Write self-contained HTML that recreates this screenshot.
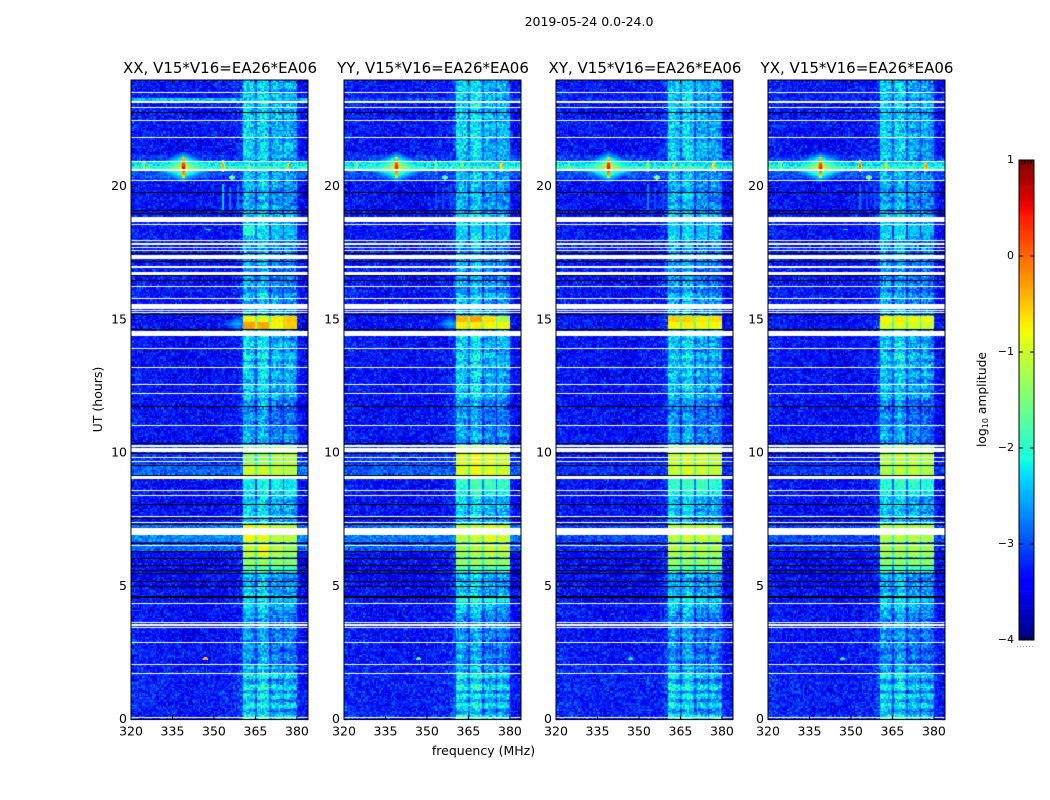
<!DOCTYPE html>
<html lang="en">
<head>
<meta charset="utf-8">
<title>2019-05-24 0.0-24.0</title>
<style>
html,body{margin:0;padding:0;background:#fff;}
#figure{position:relative;width:1050px;height:800px;overflow:hidden;background:#fff;font-family:"DejaVu Sans","Liberation Sans",sans-serif;}
canvas{position:absolute;display:block;}
#overlay{position:absolute;left:0;top:0;}
#overlay text{font-family:"DejaVu Sans","Liberation Sans",sans-serif;fill:#000;}
</style>
</head>
<body>
<div id="figure">
<canvas id="heat-xx" width="177" height="640" style="left:131px;top:80px"></canvas>
<canvas id="heat-yy" width="177" height="640" style="left:344px;top:80px"></canvas>
<canvas id="heat-xy" width="177" height="640" style="left:556px;top:80px"></canvas>
<canvas id="heat-yx" width="177" height="640" style="left:768px;top:80px"></canvas>
<canvas id="colorbar" width="15" height="480" style="left:1019px;top:160px"></canvas>
<svg id="overlay" width="1050" height="800" viewBox="0 0 1050 800">
<text x="589" y="26" text-anchor="middle" font-size="12.5">2019-05-24 0.0-24.0</text>
<text x="483.5" y="755" text-anchor="middle" font-size="12.5">frequency (MHz)</text>
<text transform="translate(102,399.5) rotate(-90)" text-anchor="middle" font-size="12.5">UT (hours)</text>
<text transform="translate(986,399.5) rotate(-90)" text-anchor="middle" font-size="12.3">log<tspan font-size="8" dy="2">10</tspan><tspan dy="-2"> amplitude</tspan></text>
<g id="axes-layer"></g>
<g id="colorbar-layer"></g>
</svg>
</div>
<script>
// ---- axis data ----
const panelTitles = ['XX, V15*V16=EA26*EA06','YY, V15*V16=EA26*EA06','XY, V15*V16=EA26*EA06','YX, V15*V16=EA26*EA06'];
const panelCanvasIds = ['heat-xx','heat-yy','heat-xy','heat-yx'];
const panelKeys = ['xx','yy','xy','yx'];
const freqTicks = [320,335,350,365,380];
const utTicks = [0,5,10,15,20];
const colorbarTicks = [1,0,-1,-2,-3,-4];
const channelWidthMHz = 0.5;
const rowCount = 426;

// mean log10 amplitude of each 0.5 MHz channel (320-384 MHz)
const channelLevel = [
-3.28,-3.30,-3.30,-3.32,-3.30,-3.33,-3.32,-3.34,-3.33,-3.35,-3.34,-3.36,-3.35,-3.36,-3.34,-3.36,
-3.36,-3.37,-3.36,-3.38,-3.37,-3.38,-3.36,-3.38,-3.38,-3.39,-3.38,-3.40,-3.39,-3.38,-3.39,-3.40,
-3.40,-3.39,-3.41,-3.40,-3.41,-3.40,-3.42,-3.41,-3.40,-3.42,-3.41,-3.42,-3.41,-3.40,-3.42,-3.41,
-3.40,-3.41,-3.40,-3.42,-3.40,-3.41,-3.39,-3.40,-3.39,-3.41,-3.39,-3.40,-3.38,-3.39,-3.38,-3.38,
-3.37,-3.38,-3.36,-3.37,-3.36,-3.37,-3.35,-3.36,-3.34,-3.35,-3.33,-3.33,-3.30,-3.28,-3.24,-3.18,-3.05,
-2.32,-2.28,-2.24,-2.28,-2.30,-2.34,-2.38,-2.42,-2.48,-2.85,
-2.38,-2.28,-2.22,-2.18,-2.16,-2.20,-2.26,-2.32,-2.38,-2.90,
-2.54,-2.48,-2.44,-2.42,-2.48,-2.50,-2.48,-2.52,-2.60,-2.95,
-2.50,-2.44,-2.44,-2.48,-2.50,-2.54,-2.58,-2.60,-2.68,
-3.28,-3.38,-3.42,-3.44,-3.45,-3.44,-3.46,-3.45];

// background lift per UT hour
const backgroundByHour = [0.10,0.10,0.04,0,0,-0.03,-0.03,0,0,0,0,0,0,0,0,0,0.03,0.03,0,0,0,0,0.03,0.03];

// RFI band structure
const subbandStartMHz = [360.5,365.5,370.5,375.5];
const subbandEndMHz = [365,370,375,380];
const rfiStartMHz = 360.5;
const rfiEndMHz = 380;
const rfiByHour = [0.10,0.10,-0.25,-0.20,0.05,-0.05,0,0.05,0.10,0,-0.15,-0.25,0,0.05,0.05,-0.05,-0.20,-0.15,0.05,-0.10,-0.05,0.05,0.05,0.05];
const rippleByHour = [0.35,0.35,0.15,0.10,0.15,0.10,0.05,0.10,0.15,0.05,0.10,0.10,0.15,0.20,0.10,0.10,0.10,0.10,0.10,0.10,0.10,0.10,0.10,0.10];
const rowRipple = [0.6,0.9,0.7,0.1,-0.5,-0.9,-0.7,-0.1,0.5,1.0,0.4,-0.2,-0.8,-0.6,0.1,0.8,0.5,-0.3,-1.0,-0.4];
const panelRfiOffset = [-0.10,-0.08,-0.13,-0.15];

// speckle table, log10 units
const grainTable = [0.12,-0.31,0.05,0.38,-0.12,-0.44,0.21,-0.05,0.29,-0.22,0.02,0.46,-0.36,0.15,-0.09,0.33,-0.18,-0.52,0.08,0.24,
-0.27,0.41,-0.02,-0.14,0.18,-0.39,0.31,0.06,-0.24,0.52,-0.07,-0.33,0.14,0.27,-0.47,0.03,0.36,-0.16,0.10,-0.29,
0.22,0.44,-0.11,-0.41,0.01,0.30,-0.20,0.17,-0.58,0.26,0.07,-0.13,0.39,-0.26,-0.04,0.19,-0.35,0.48,0.09,-0.17,
-0.30,0.25,0.13,-0.43,0.34,-0.08,0.04,-0.23,0.42,-0.15,0.20,-0.37,0.11,0.32,-0.50,-0.01,0.28,-0.19,0.16,-0.28,
0.37,-0.06,-0.40,0.23,0.00,0.43,-0.21,-0.10,0.35,-0.34,0.07,0.55,-0.25,-0.03,0.17,-0.46,0.26,0.12,-0.12,-0.32,0.40];

// flagged (white) time ranges, UT hours
const flagStartUT = [23.50,23.12,22.95,22.46,21.82,20.91,20.60,20.20,18.67,18.56,17.95,17.82,17.69,17.58,17.28,16.96,16.68,16.23,15.78,15.39,15.33,15.25,14.41,13.90,13.19,12.54,12.22,11.01,10.24,10.06,9.80,9.67,9.02,8.58,8.38,7.59,7.37,6.93,6.53,4.33,3.61,3.53,3.44,2.86,2.05,1.71,0.05];
const flagEndUT   = [23.55,23.21,23.00,22.51,21.87,20.95,20.65,20.24,18.87,18.61,17.99,17.87,17.74,17.63,17.44,17.01,16.79,16.28,15.83,15.59,15.37,15.29,14.58,13.95,13.24,12.59,12.26,11.05,10.30,10.20,9.85,9.72,9.14,8.63,8.42,7.64,7.42,7.20,6.57,4.38,3.66,3.58,3.49,2.91,2.09,1.76,0.09];

// dead (black) time ranges, UT hours
const deadStartUT = [22.75,19.78,19.08,18.97,17.47,17.18,16.64,16.47,15.18,14.63,11.72,10.33,9.98,9.51,9.16,8.06,7.52,7.30,6.59,6.28,6.02,5.77,5.59,5.47,5.16,4.96,4.58];
const deadEndUT   = [22.79,19.81,19.12,19.00,17.52,17.22,16.67,16.51,15.23,14.67,11.76,10.37,10.02,9.55,9.19,8.10,7.56,7.34,6.62,6.32,6.06,5.81,5.63,5.50,5.20,5.01,4.62];

// broadband raised-background ranges
const bgStartUT = [23.21,20.95,20.78,20.65,20.35,20.20,6.93,6.62,6.32,9.60,9.17];
const bgEndUT   = [23.32,21.20,20.95,20.78,20.60,20.35,7.30,6.93,6.59,10.30,9.60];
const bgLevels = [
[-2.45,-3.10,-2.25,-2.00,-3.00,-3.20,-2.80,-2.72,-2.88,-3.15,-2.90],
[-3.00,-3.10,-2.25,-2.00,-3.00,-3.20,-2.85,-2.80,-2.95,-3.10,-2.95],
[-3.20,-3.10,-2.30,-2.00,-3.00,-3.20,-3.10,-3.05,-3.15,-3.30,-3.15],
[-3.20,-3.10,-2.30,-2.00,-3.00,-3.20,-3.10,-3.05,-3.15,-3.30,-3.15]];

// strong RFI-band bursts, one level for each of the four sub-bands
const burstStartUT = [14.92,14.67,9.60,9.17,8.58,8.38,6.62,6.06,5.81,5.50,4.38,18.20];
const burstEndUT   = [15.18,14.92,10.30,9.60,9.02,8.58,7.30,6.59,6.02,5.77,4.58,18.55];
const burstLevels = [
[[-0.75,-0.90,-0.70,-0.50],[-0.30,-0.35,-0.80,-0.55],[-1.40,-1.35,-1.20,-1.20],[-1.00,-1.00,-1.10,-1.15],[-2.20,-2.10,-2.20,-2.25],[-2.30,-2.20,-2.30,-2.30],[-0.80,-0.85,-1.10,-1.15],[-1.10,-0.80,-1.15,-1.30],[-1.35,-1.30,-1.40,-1.45],[-1.75,-1.75,-1.85,-1.90],[-2.30,-2.30,-2.40,-2.40],[-2.00,-2.25,-2.45,-2.45]],
[[-0.45,-0.30,-0.65,-1.25],[-0.70,-0.70,-0.80,-0.80],[-0.95,-0.80,-0.90,-1.00],[-0.95,-0.80,-0.90,-1.00],[-1.95,-1.85,-1.90,-1.95],[-2.15,-2.05,-2.15,-2.15],[-1.10,-1.00,-0.85,-1.00],[-1.25,-1.15,-1.05,-1.15],[-1.35,-1.30,-1.30,-1.35],[-1.75,-1.70,-1.75,-1.80],[-2.00,-1.95,-2.10,-2.20],[-2.35,-2.30,-2.45,-2.45]],
[[-0.55,-0.55,-0.70,-0.65],[-0.75,-0.75,-0.80,-0.80],[-1.05,-0.95,-1.00,-1.10],[-1.05,-0.95,-1.00,-1.10],[-1.95,-1.90,-1.90,-2.00],[-2.15,-2.10,-2.15,-2.20],[-1.10,-1.00,-1.00,-1.15],[-1.15,-1.15,-1.15,-1.25],[-1.35,-1.35,-1.35,-1.40],[-1.75,-1.75,-1.80,-1.85],[-2.25,-2.15,-2.30,-2.35],[-2.35,-2.30,-2.45,-2.45]],
[[-0.75,-0.70,-0.80,-0.85],[-0.95,-0.90,-0.95,-1.00],[-1.20,-1.10,-1.10,-1.20],[-1.20,-1.10,-1.10,-1.20],[-2.05,-1.95,-2.00,-2.05],[-2.20,-2.15,-2.20,-2.25],[-1.15,-1.10,-1.10,-1.20],[-1.25,-1.25,-1.20,-1.30],[-1.40,-1.40,-1.40,-1.45],[-1.80,-1.80,-1.85,-1.90],[-2.30,-2.25,-2.35,-2.40],[-2.35,-2.30,-2.45,-2.45]]];

// compact sources: centre, half-widths and per-panel peak level
const sourceFreqMHz = [339,339,377.1,353.3,324.7,362.7,356.4,347,348,358.5];
const sourceUT      = [20.73,20.75,20.78,20.78,20.78,20.78,20.34,2.30,18.40,14.85];
const sourceWidthMHz= [14,1.0,0.7,0.7,0.6,0.6,1.2,1.6,0.9,5.0];
const sourceHeightH = [0.60,0.52,0.26,0.26,0.20,0.22,0.15,0.05,0.05,0.30];
const sourcePeak = [
[-0.90,0.90,0.45,0.10,-0.80,-0.70,-1.00,0.15,-1.40,-2.50],
[-0.90,0.85,0.25,-0.90,-1.00,-0.90,-1.20,-1.20,-1.80,-2.50],
[-0.90,0.90,0.10,-0.70,-1.10,-0.70,-0.90,-1.50,-1.80,-3.20],
[-0.90,0.85,0.50,0.35,-1.00,-0.40,-0.90,-1.50,-1.80,-3.20]];
const sourceDrop = [2.2,1.6,1.5,1.5,1.0,1.0,0.9,0.9,0.9,0.6];

// faint vertical streaks
const streakFreqMHz = [353,355.5,358.5];
const streakStartUT = [19.12,19.12,19.12];
const streakEndUT = [20.10,20.00,20.05];
const streakLevels = [[-2.35,-2.75,-2.75],[-3.00,-3.00,-3.00],[-2.70,-3.00,-3.00],[-2.80,-3.00,-3.00]];

// ---- scales ----
const panelLeft = [131,344,556,768];
const panelWidth = 177;
const plotTop = 80;
const plotBottom = 719.6;
const pxPerMHz = panelWidth / 64;
const pxPerHour = (plotBottom - plotTop) / 24;
function xScale(freq){ return (freq - 320) * pxPerMHz; }
function yScale(ut){ return plotBottom - plotTop - ut * pxPerHour; }
function cbScale(v){ return (1 - v) / 5 * 480; }

function seg(t, pts){
  for (let k = 1; k < pts.length; k++) {
    if (t <= pts[k][0]) {
      const a = pts[k-1], b = pts[k];
      return a[1] + (b[1]-a[1]) * (t-a[0]) / (b[0]-a[0]);
    }
  }
  return pts[pts.length-1][1];
}
const jetR = [[0,0],[0.35,0],[0.66,1],[0.89,1],[1,0.5]];
const jetG = [[0,0],[0.125,0],[0.375,1],[0.64,1],[0.91,0],[1,0]];
const jetB = [[0,0.5],[0.11,1],[0.34,1],[0.65,0],[1,0]];
const lut = [];
for (let i = 0; i < 256; i++) {
  const t = i / 255;
  lut.push('rgb(' + Math.round(seg(t,jetR)*255) + ',' + Math.round(seg(t,jetG)*255) + ',' + Math.round(seg(t,jetB)*255) + ')');
}
function colorOf(v){
  const t = Math.max(0, Math.min(1, (v + 4) / 5));
  return lut[Math.round(t * 255)];
}

function subbandOf(f){
  for (let s = 0; s < subbandStartMHz.length; s++) {
    if (f >= subbandStartMHz[s] && f < subbandEndMHz[s]) return s;
  }
  return -1;
}

// picks a speckle entry for a cell from the fixed table
function grainAt(p, i, r){
  let h = Math.imul(r + 1, 374761393) + Math.imul(i + 1, 668265263) + Math.imul(p + 1, 2246822519);
  h = Math.imul(h ^ (h >>> 13), 1274126177);
  h = (h ^ (h >>> 16)) >>> 0;
  const g = grainTable[h % grainTable.length];
  return g < 0 ? g * 0.9 : g;
}

function cellLevel(p, i, r, ut){
  const f = 320 + i * channelWidthMHz;
  const g = grainAt(p, i, r);
  const inRfi = f >= rfiStartMHz && f < rfiEndMHz;
  const hour = Math.min(23, Math.floor(ut));
  let v = channelLevel[i] + g;
  if (inRfi) {
    v += rfiByHour[hour] + panelRfiOffset[p] + rowRipple[r % rowRipple.length] * rippleByHour[hour];
  } else {
    v += backgroundByHour[hour];
  }
  for (let b = 0; b < bgStartUT.length; b++) {
    if (ut >= bgStartUT[b] && ut < bgEndUT[b]) {
      v = Math.max(v, bgLevels[p][b] + g * 0.8);
    }
  }
  if (inRfi) {
    for (let b = 0; b < burstStartUT.length; b++) {
      if (ut >= burstStartUT[b] && ut < burstEndUT[b]) {
        const s = subbandOf(f);
        if (s >= 0) {
          const lvl = burstLevels[p][b][s];
          v = lvl + g * (lvl < -1.6 ? 0.6 : 0.2);
        } else {
          v = burstLevels[p][b][Math.min(3, Math.floor((f - rfiStartMHz) / 5))] - 0.9 + g * 0.3;
        }
      }
    }
  }
  for (let k = 0; k < streakFreqMHz.length; k++) {
    if (f === streakFreqMHz[k] && ut >= streakStartUT[k] && ut < streakEndUT[k]) {
      v = Math.max(v, streakLevels[p][k]);
    }
  }
  for (let k = 0; k < sourceFreqMHz.length; k++) {
    const ratio = Math.abs(f + 0.25 - sourceFreqMHz[k]) / sourceWidthMHz[k] + Math.abs(ut - sourceUT[k]) / sourceHeightH[k];
    if (ratio < 1) {
      v = Math.max(v, sourcePeak[p][k] - sourceDrop[k] * ratio + g * 0.2);
    }
  }
  return v;
}

function drawPanel(p){
  const ctx = document.getElementById(panelCanvasIds[p]).getContext('2d');
  ctx.fillStyle = '#0000c0';
  ctx.fillRect(0, 0, 177, 640);
  const rowHours = 24 / rowCount;
  for (let r = 0; r < rowCount; r++) {
    const ut = (r + 0.5) * rowHours;
    const y1 = Math.round(yScale(r * rowHours));
    const y0 = Math.round(yScale((r + 1) * rowHours));
    for (let i = 0; i < channelLevel.length; i++) {
      const f = 320 + i * channelWidthMHz;
      const x0 = Math.round(xScale(f));
      const x1 = Math.round(xScale(f + channelWidthMHz));
      ctx.fillStyle = colorOf(cellLevel(p, i, r, ut));
      ctx.fillRect(x0, y0, x1 - x0, y1 - y0);
    }
  }
  ctx.fillStyle = '#000';
  for (let k = 0; k < deadStartUT.length; k++) {
    const top = Math.round(yScale(deadEndUT[k]));
    const bottom = Math.round(yScale(deadStartUT[k]));
    ctx.fillRect(0, top, 177, Math.max(1, bottom - top));
  }
  ctx.fillStyle = '#fff';
  for (let k = 0; k < flagStartUT.length; k++) {
    const top = Math.round(yScale(flagEndUT[k]));
    const bottom = Math.round(yScale(flagStartUT[k]));
    ctx.fillRect(0, top, 177, Math.max(1, bottom - top));
  }
}

const SVGNS = 'http://www.w3.org/2000/svg';
function line(parent, x1, y1, x2, y2, w){
  const el = document.createElementNS(SVGNS, 'line');
  el.setAttribute('x1', x1);
  el.setAttribute('y1', y1);
  el.setAttribute('x2', x2);
  el.setAttribute('y2', y2);
  el.setAttribute('stroke', '#000');
  el.setAttribute('stroke-width', w || 1);
  parent.appendChild(el);
  return el;
}
function label(parent, x, y, anchor, size, str){
  const el = document.createElementNS(SVGNS, 'text');
  el.setAttribute('x', x);
  el.setAttribute('y', y);
  el.setAttribute('text-anchor', anchor);
  el.setAttribute('font-size', size);
  el.textContent = str;
  parent.appendChild(el);
  return el;
}

function drawAxes(p){
  const root = document.getElementById('axes-layer');
  const g = document.createElementNS(SVGNS, 'g');
  
  
  root.appendChild(g);
  const L = panelLeft[p], R = L + panelWidth;
  const frame = document.createElementNS(SVGNS, 'rect');
  frame.setAttribute('x', L);
  frame.setAttribute('y', plotTop);
  frame.setAttribute('width', panelWidth);
  frame.setAttribute('height', plotBottom - plotTop);
  frame.setAttribute('fill', 'none');
  frame.setAttribute('stroke', '#000');
  frame.setAttribute('stroke-width', '1');
  
  
  g.appendChild(frame);
  const title = label(g, L + panelWidth / 2 + 0.5, 73, 'middle', 15, panelTitles[p]);
  
  
  freqTicks.forEach(function(t){
    const x = L + xScale(t);
    const tb = line(g, x, plotBottom, x, plotBottom - 4);
    
    
    const tt = line(g, x, plotTop, x, plotTop + 4);
    
    
    const lb = label(g, x, 735.5, 'middle', 12.5, String(t));
    
    
  });
  utTicks.forEach(function(t){
    const y = plotTop + yScale(t);
    const tl = line(g, L, y, L + 4, y);
    
    
    const tr = line(g, R, y, R - 4, y);
    
    
    const lb = label(g, L - 4, y + 3.5, 'end', 12.5, String(t));
    
    
  });
}

function drawColorbar(){
  const ctx = document.getElementById('colorbar').getContext('2d');
  for (let y = 0; y < 256; y++) {
    const v = 1 - 5 * y / 256;
    const top = cbScale(v);
    ctx.fillStyle = colorOf(v - 5 / 512);
    ctx.fillRect(0, top, 15, 480 / 256 + 0.6);
  }
  const g = document.getElementById('colorbar-layer');
  const L = 1019, R = 1034, T = 160, B = 640;
  const frame = document.createElementNS(SVGNS, 'rect');
  frame.setAttribute('x', L);
  frame.setAttribute('y', T);
  frame.setAttribute('width', R - L);
  frame.setAttribute('height', B - T);
  frame.setAttribute('fill', 'none');
  frame.setAttribute('stroke', '#000');
  frame.setAttribute('stroke-width', '1');
  
  
  g.appendChild(frame);
  colorbarTicks.forEach(function(t){
    const y = T + cbScale(t);
    const a = line(g, L, y, L + 4, y);
    
    
    const b = line(g, R, y, R - 4, y);
    
    
    const lb = label(g, 1014, y + 3, 'end', 11, String(t).replace('-', '\u2212'));
    
    
  });
  [0.2,0.4,0.6,0.8].forEach(function(frac){
    const x = L + frac * (R - L);
    const up = line(g, x, T, x, T + 4);
    
    
    const dn = line(g, x, B, x, B - 4);
    
    
  });
  const dots = line(g, 1017, 646.5, 1035, 646.5);
  dots.setAttribute('stroke', '#999');
  dots.setAttribute('stroke-dasharray', '1 2');
  
  
}

for (let p = 0; p < panelTitles.length; p++) {
  drawPanel(p);
  drawAxes(p);
}
drawColorbar();
</script>
</body>
</html>
